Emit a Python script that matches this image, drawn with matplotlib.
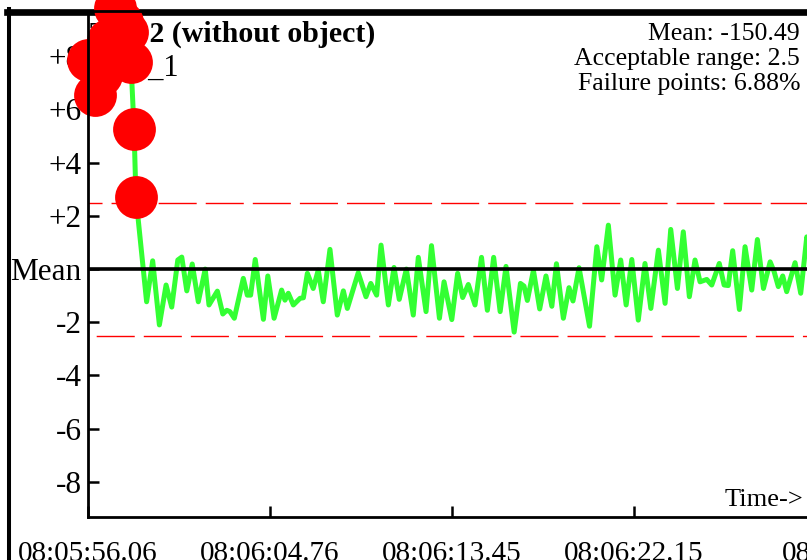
import numpy as np
import matplotlib.pyplot as plt
from matplotlib.lines import Line2D

plt.rcParams['font.family'] = ['Liberation Serif', 'DejaVu Serif']

# seconds after 08:05:56.06, deviation from the mean
t_sec = [0.00, 0.33, 0.62, 0.96, 1.29, 1.62, 1.86, 2.05, 2.20, 2.29,
         2.80, 3.09, 3.41, 3.73, 4.00, 4.29, 4.48, 4.72, 4.98, 5.27,
         5.60, 5.78, 6.18, 6.44, 6.63, 6.78, 6.99, 7.42, 7.61, 7.77,
         7.99, 8.38, 8.59, 8.89, 9.25, 9.41, 9.57, 9.81, 10.13, 10.29,
         10.48, 10.76, 11.00, 11.24, 11.56, 11.91, 12.20, 12.39, 12.91, 13.28,
         13.51, 13.79, 14.00, 14.35, 14.62, 14.87, 15.21, 15.54, 15.78, 16.15,
         16.41, 16.79, 17.01, 17.38, 17.66, 17.90, 18.17, 18.49, 18.80, 19.08,
         19.38, 19.69, 19.97, 20.36, 20.66, 20.83, 20.99, 21.28, 21.58, 21.88,
         22.16, 22.38, 22.71, 22.98, 23.17, 23.46, 23.96, 24.31, 24.54, 24.86,
         25.18, 25.45, 25.71, 25.98, 26.29, 26.61, 26.89, 27.25, 27.57, 27.84,
         28.16, 28.44, 28.73, 29.00, 29.24, 29.56, 29.80, 30.16, 30.39, 30.59,
         30.80, 31.12, 31.39, 31.71, 31.98, 32.27, 32.59, 32.78, 32.98, 33.19,
         33.38, 33.78, 34.05, 34.34, 34.64, 34.97]
dev = [7.86, 6.54, 7.30, 8.60, 9.80, 9.30, 8.90, 7.80, 5.26, 2.70,
       -1.23, 0.31, -2.10, -0.60, -1.43, 0.34, 0.45, -0.82, 0.19, -1.23,
       0.00, -1.35, -0.83, -1.69, -1.55, -1.60, -1.85, -0.35, -0.98, -0.98,
       0.36, -1.89, -0.26, -1.85, -0.79, -1.17, -0.91, -1.35, -1.10, -1.08,
       -0.16, -0.73, -0.04, -1.23, 0.74, -1.73, -0.82, -1.48, -0.14, -1.04,
       -0.54, -0.98, 0.90, -1.35, 0.06, -1.14, 0.00, -1.73, 0.44, -1.60,
       0.88, -1.85, -0.48, -1.90, -0.16, -1.07, -0.58, -1.35, 0.44, -1.55,
       0.44, -1.60, 0.10, -2.37, -0.54, -0.64, -1.18, -0.05, -1.50, -0.26,
       -1.40, 0.20, -1.85, -0.70, -1.20, 0.05, -2.15, 0.84, -0.41, 1.65,
       -0.98, 0.34, -1.35, 0.36, -1.92, 0.21, -1.48, 0.71, -1.29, 1.49,
       -0.73, 1.40, -1.04, 0.34, -0.48, -0.39, -0.60, 0.21, -0.60, -0.62,
       0.69, -1.52, 0.84, -0.79, 1.11, -0.73, 0.27, -0.10, -0.66, -0.26,
       -0.85, 0.24, -0.91, 1.21, 0.35, -0.60]

mean_val = -150.49
tol = 2.5
fail_pct = 6.88

ytick_vals = [-8, -6, -4, -2, 0, 2, 4, 6, 8]
ytick_labels = ['-8', '-6', '-4', '-2', 'Mean', '+2', '+4', '+6', '+8']
xtick_sec = [0.0, 8.695, 17.39, 26.085, 36.50]
xtick_labels = ['08:05:56.06', '08:06:04.76', '08:06:13.45',
                '08:06:22.15', '08:06:30.85']

W, H = 807, 560
fig = plt.figure(figsize=(W / 100, H / 100), dpi=100)


def fx(px):
    return px / W


def fy(py):
    return 1 - py / H


# plot area runs past the right edge of the canvas (cropped chart)
ax = fig.add_axes([fx(88), fy(517), (870 - 88) / W, (517 - 11) / H])
ax.set_facecolor('none')

t = np.array(t_sec)
v = np.array(dev)

ax.plot(t, v, color='#33ff33', lw=3.6, zorder=2, solid_joinstyle='round')
ax.axhline(0, color='k', lw=2.6, zorder=2.2)
ax.axhline(tol, color='red', lw=1, ls=(17.3, (27.4, 6.5)), zorder=1.8)
ax.axhline(-tol, color='red', lw=1, ls=(28.0, (27.4, 6.5)), zorder=1.8)

fail = np.abs(v) > tol
ax.scatter(t[fail], v[fail], s=950, c='red', linewidths=0,
           zorder=2.4, clip_on=False)

ax.set_xlim(0, 37.36)
ax.set_ylim(-9.32, 9.7)
ax.set_yticks(ytick_vals)
ax.set_yticklabels(ytick_labels)
ax.set_xticks(xtick_sec)
ax.set_xticklabels(xtick_labels)
ax.tick_params(axis='y', direction='in', length=8, width=1.8,
               labelsize=22.5, pad=4.5)
ax.tick_params(axis='x', direction='in', length=8, width=1.8,
               labelsize=21, pad=17)
for sp in ax.spines.values():
    sp.set_linewidth(2)
    sp.set_zorder(3)

# outer frame (under the red markers)
fig.add_artist(Line2D([fx(6.7), 1.0], [fy(11.7), fy(11.7)], lw=4.8,
                      color='k', zorder=-1))
fig.add_artist(Line2D([fx(8.7), fx(8.7)], [fy(8.5), 0.0], lw=2.9,
                      color='k', zorder=-1))

fig.text(fx(90), fy(42), 'Test 2 (without object)', fontsize=21.5,
         fontweight='bold', ha='left', va='baseline', zorder=-1)
fig.text(fx(94), fy(76), 'Unit_1', fontsize=22, ha='left',
         va='baseline', zorder=-1)

fig.text(fx(800), fy(34), f'Mean: {mean_val:.2f}', fontsize=18.5,
         ha='right', va='center')
fig.text(fx(800), fy(59), f'Acceptable range: {tol}', fontsize=18.5,
         ha='right', va='center')
fig.text(fx(800), fy(84), f'Failure points: {fail_pct:.2f}%', fontsize=18.5,
         ha='right', va='center')
fig.text(fx(803), fy(500), 'Time->', fontsize=19, ha='right', va='center')

fig.savefig('out.png', dpi=100)
